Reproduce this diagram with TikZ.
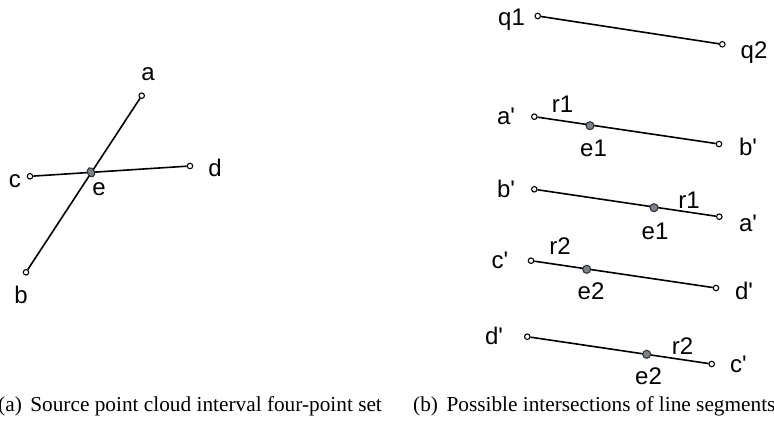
\documentclass[tikz,border=0pt]{standalone}
\usepackage{fontspec}
\setmainfont{Liberation Serif}
\newfontfamily\lblfont{Liberation Sans}
\usetikzlibrary{shapes.geometric}
\pgfdeclarelayer{bg}
\pgfsetlayers{bg,main}
\definecolor{dotgray}{RGB}{125,130,138}
\tikzset{
  seg/.style={line width=1.6pt, black},
  endpt/.style={circle, draw=black, line width=1.1pt, fill=white, minimum size=5.5pt, inner sep=0pt},
  ipt/.style={circle, draw=black!80, line width=1.1pt, fill=dotgray, minimum size=8pt, inner sep=0pt},
  lbl/.style={anchor=base, inner sep=0pt, font=\lblfont\fontsize{24}{28}\selectfont},
  capt/.style={anchor=base west, inner sep=0pt, font=\fontsize{21.3}{25}\selectfont}
}
\begin{document}
\begin{tikzpicture}[x=1pt,y=-1pt]
\useasboundingbox (0,0) rectangle (774,427);
% ---- left panel
\node[endpt] (a) at (141.7,95.7) {};
\node[endpt] (b) at (26,272.3) {};
\node[endpt] (c) at (30,176.3) {};
\node[endpt] (d) at (190,166) {};
\node[ipt, ellipse, minimum width=7pt, minimum height=9.5pt, rotate=25] (e) at (91,172.3) {};
\begin{pgfonlayer}{bg}
\draw[seg] (a) -- (b);
\draw[seg] (c) -- (d);
\end{pgfonlayer}
\node[lbl] (la) at (148,81) {a};
\node[lbl] (lb) at (21,304) {b};
\node[lbl] (lc) at (15,187.7) {c};
\node[lbl] (ld) at (215,177) {d};
\node[lbl] (le) at (99,196) {e};
% ---- right panel
\node[endpt] (q1) at (537.7,16) {};
\node[endpt] (q2) at (722.3,44.3) {};
\node[endpt] (ap0) at (534.3,116.7) {};
\node[endpt] (bp0) at (719,144) {};
\node[ipt] (e1a) at (590,125.7) {};
\node[endpt] (bp1) at (534.3,189.3) {};
\node[endpt] (ap1) at (719.3,216.7) {};
\node[ipt] (e1b) at (654,207.7) {};
\node[endpt] (cp1) at (531,260.7) {};
\node[endpt] (dp1) at (716,288) {};
\node[ipt] (e2a) at (586.7,269.3) {};
\node[endpt] (dp2) at (527.3,336.7) {};
\node[endpt] (cp2) at (711.7,364) {};
\node[ipt] (e2b) at (646.7,354.3) {};
\begin{pgfonlayer}{bg}
\draw[seg] (q1) -- (q2);
\draw[seg] (ap0) -- (bp0);
\draw[seg] (bp1) -- (ap1);
\draw[seg] (cp1) -- (dp1);
\draw[seg] (dp2) -- (cp2);
\end{pgfonlayer}
\node[lbl] (lq1) at (511.5,25.5) {q1};
\node[lbl] (lq2) at (754,59) {q2};
\node[lbl] (lap0) at (506,125) {a'};
\node[lbl] (lr1a) at (562.5,113) {r1};
\node[lbl] (le1a) at (593.5,156.7) {e1};
\node[lbl] (lbp0) at (748,156) {b'};
\node[lbl] (lbp1) at (506,197.3) {b'};
\node[lbl] (lr1b) at (689,208.3) {r1};
\node[lbl] (le1b) at (655,239.3) {e1};
\node[lbl] (lap1) at (748,231.7) {a'};
\node[lbl] (lr2a) at (560,255) {r2};
\node[lbl] (lcp1) at (500,268.3) {c'};
\node[lbl] (le2a) at (591,300) {e2};
\node[lbl] (ldp1) at (744,300) {d'};
\node[lbl] (ldp2) at (494,345) {d'};
\node[lbl] (lr2b) at (682.5,355) {r2};
\node[lbl] (le2b) at (648.5,385) {e2};
\node[lbl] (lcp2) at (738.5,373) {c'};
% ---- captions
\node[capt] (capa) at (-2,412) {(a)\hspace{0.4em}Source point cloud interval four-point set};
\node[capt] (capb) at (413,412) {(b)\hspace{0.4em}Possible intersections of line segments};
\end{tikzpicture}
\end{document}
